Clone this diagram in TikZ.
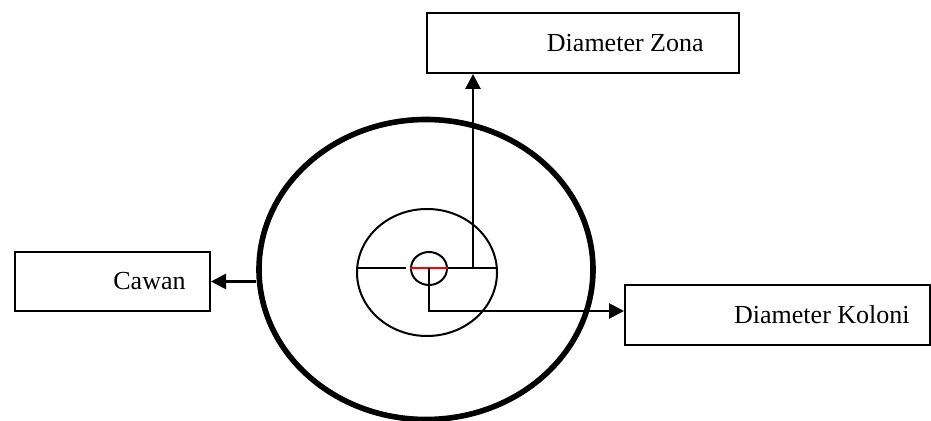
\documentclass[tikz,border=0pt]{standalone}
\usepackage{fontspec}
\setmainfont{Liberation Serif}
\usepackage{tikz}
\usetikzlibrary{positioning, shapes.geometric, arrows.meta}

\begin{document}
\begin{tikzpicture}[
        x=0.5pt, y=-0.5pt,
        box/.style={rectangle, draw, line width=1pt, minimum height=30pt, inner sep=0pt},
        tag/.style={inner sep=0pt, font=\fontsize{13}{15}\selectfont},
        ring/.style={ellipse, draw, inner sep=0pt},
        arr/.style={line width=1.4pt, -{Triangle[length=7.5pt, width=7.5pt]}},
    ]
        \useasboundingbox (0,0) rectangle (931,421);

        % Plate and zones
        \node[ring, line width=2.8pt, minimum width=167pt, minimum height=150pt] (cup) at (426,269.5) {};
        \node[ring, line width=1pt, minimum width=70pt, minimum height=63.5pt] (zone) at (427,272.5) {};
        \node[ring, line width=1pt, minimum width=18pt, minimum height=16.5pt] (colony) at (429,268.5) {};

        % Diameter line
        \draw[line width=1pt] (zone.west |- colony.center) -- ([xshift=-2pt]colony.west);
        \draw[line width=1pt, red] (colony.west) -- (colony.east);
        \draw[line width=1pt] (colony.east) -- (zone.east |- colony.center);

        % Boxes
        \node[box, minimum width=97.5pt, minimum height=29.5pt] (cawan) at (112.5,281.5) {};
        \node[tag, left=12.5pt of cawan.east] (cawantxt) {Cawan};
        \node[box, minimum width=156pt] (zona) at (583,43) {};
        \node[tag, left=18pt of zona.east] (zonatxt) {Diameter Zona};
        \node[box, minimum width=152.5pt] (koloni) at (777.5,315) {};
        \node[tag, left=10.5pt of koloni.east] (kolonitxt) {Diameter Koloni};

        % Arrows
        \coordinate (zl) at (473,268.5);
        \draw[arr] (zl) -- (zl |- zona.south);
        \draw[arr] (cup.west |- cawan.east) -- (cawan.east);
        \draw[arr] (colony.center) |- ([yshift=2pt]koloni.west);

\end{tikzpicture}
\end{document}
